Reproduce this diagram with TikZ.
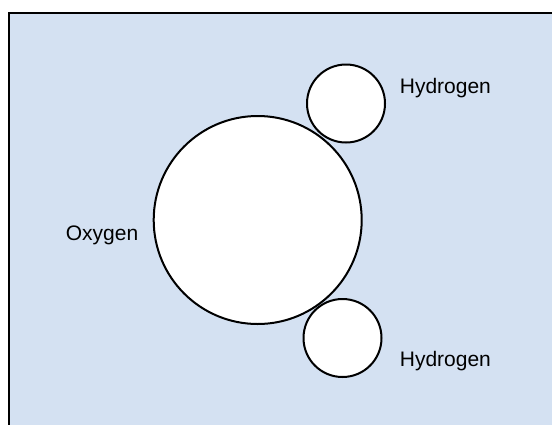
\documentclass[tikz,border=0pt]{standalone}
\usepackage{fontspec}
\setmainfont{Liberation Sans}
\definecolor{bgblue}{RGB}{212,225,242}
\begin{document}
\begin{tikzpicture}[x=1pt,y=-1pt,
  atom/.style={circle,draw=black,line width=2pt,fill=white,inner sep=0pt},
  lbl/.style={font=\fontsize{21}{25}\selectfont,inner sep=0pt}]
\useasboundingbox (0,0) rectangle (552,424);
\clip (0,0) rectangle (552,424);
\draw[fill=bgblue,draw=black,line width=2.6pt] (9,13) rectangle (570,440);
\node[atom,minimum size=78pt] (H1) at (346,103.5) {};
\node[atom,minimum size=78pt] (H2) at (342.5,338) {};
\node[atom,minimum size=208pt] (O) at (257.7,220) {};
\node[lbl] (tO) at (102,235.5) {Oxygen};
\node[lbl] (tH1) at (445.4,88) {Hydrogen};
\node[lbl] (tH2) at (445.4,361.4) {Hydrogen};
\end{tikzpicture}
\end{document}
